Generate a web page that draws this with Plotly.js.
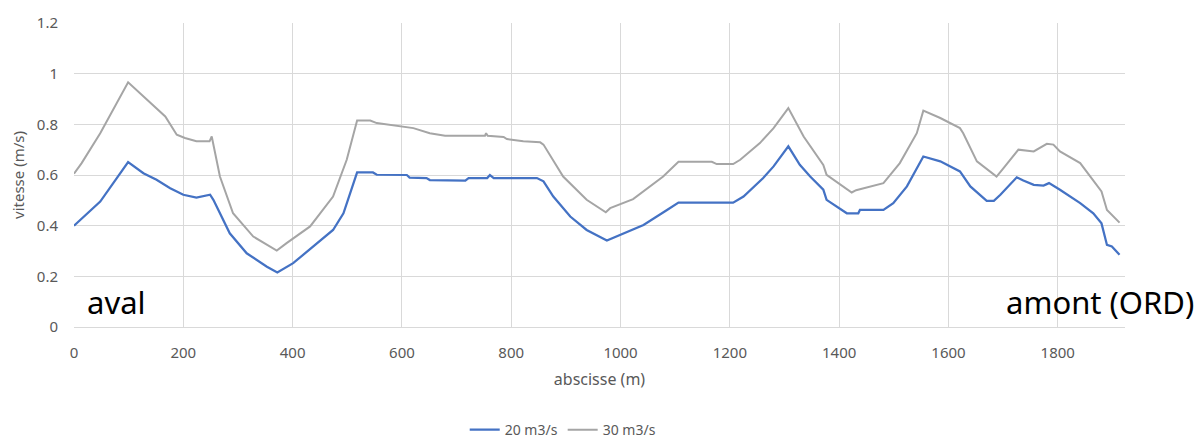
<!DOCTYPE html>
<html>
<head>
<meta charset="utf-8">
<script src="https://cdn.plot.ly/plotly-3.0.1.min.js"></script>
<style>html,body{margin:0;padding:0;background:#fff;}#chart{width:1195px;height:438px;}</style>
</head>
<body>
<div id="chart"></div>
<script>
const x30 = [0,14,48,99,167,188,203,224,248,252,267,291,328,371,389,432,474,499,518,542,554,584,621,651,679,752,754,757,786,792,822,853,859,895,938,973,981,1023,1078,1106,1167,1176,1206,1219,1255,1280,1307,1335,1371,1377,1423,1431,1481,1511,1542,1554,1585,1621,1627,1652,1688,1700,1728,1756,1780,1792,1804,1841,1865,1880,1890,1913];
const v30 = [0.605,0.647,0.765,0.966,0.831,0.759,0.746,0.733,0.733,0.752,0.594,0.449,0.357,0.302,0.331,0.397,0.515,0.66,0.815,0.815,0.805,0.795,0.785,0.765,0.755,0.755,0.765,0.755,0.75,0.742,0.733,0.729,0.72,0.594,0.502,0.453,0.469,0.505,0.594,0.652,0.652,0.643,0.643,0.66,0.726,0.785,0.864,0.752,0.64,0.601,0.531,0.54,0.568,0.647,0.765,0.854,0.825,0.785,0.765,0.654,0.594,0.625,0.7,0.693,0.723,0.72,0.693,0.647,0.581,0.535,0.462,0.412];
const x20 = [0,48,99,127,151,176,200,224,249,255,285,316,353,372,401,438,474,493,518,547,554,609,614,645,651,716,722,756,761,768,847,859,877,908,938,975,1005,1042,1085,1106,1206,1225,1261,1280,1307,1328,1347,1371,1377,1414,1435,1438,1481,1499,1524,1554,1585,1621,1640,1670,1683,1695,1725,1737,1756,1774,1784,1804,1841,1865,1880,1890,1899,1913];
const v20 = [0.40,0.495,0.651,0.607,0.581,0.548,0.522,0.511,0.522,0.502,0.370,0.291,0.238,0.215,0.252,0.317,0.383,0.449,0.61,0.61,0.601,0.6,0.59,0.588,0.58,0.578,0.588,0.588,0.6,0.588,0.588,0.575,0.515,0.436,0.383,0.341,0.37,0.403,0.462,0.491,0.491,0.515,0.588,0.634,0.713,0.64,0.594,0.542,0.502,0.449,0.449,0.462,0.462,0.489,0.555,0.673,0.654,0.614,0.555,0.498,0.498,0.522,0.591,0.578,0.561,0.558,0.568,0.542,0.489,0.449,0.409,0.324,0.318,0.285];
const seriesNames = ["20 m3/s", "30 m3/s"];
const xTitle = "abscisse (m)";
const yTitle = "vitesse (m/s)";
const labelLeft = "aval";
const labelRight = "amont (ORD)";

const font = "Noto Sans, Liberation Sans, sans-serif";
const grey = "#595959";
const traces = [
  {x: x20, y: v20, name: seriesNames[0], type: "scatter", mode: "lines", line: {color: "#4472C4", width: 2.25}},
  {x: x30, y: v30, name: seriesNames[1], type: "scatter", mode: "lines", line: {color: "#A5A5A5", width: 2}}
];
const layout = {
  width: 1195, height: 438,
  margin: {l: 74, r: 70, t: 23, b: 111},
  paper_bgcolor: "#fff", plot_bgcolor: "#fff",
  font: {family: font, size: 14, color: grey},
  showlegend: true,
  legend: {orientation: "h", x: 0.465, xanchor: "center", yref: "container", y: 0.018, yanchor: "middle", font: {size: 14, color: grey}},
  xaxis: {
    range: [0, 1923], dtick: 200, tick0: 0, showgrid: true, gridcolor: "#d9d9d9", gridwidth: 1,
    zeroline: false, showline: true, linecolor: "#d9d9d9", linewidth: 1, ticks: "",
    ticklabelstandoff: 12,
    title: {text: xTitle, font: {size: 16, color: grey}, standoff: 12},
    tickfont: {size: 15, color: grey}
  },
  yaxis: {
    range: [0, 1.2], dtick: 0.2, tick0: 0, showgrid: true, gridcolor: "#d9d9d9", gridwidth: 1,
    zeroline: false, showline: false, ticks: "",
    ticklabelstandoff: 15,
    title: {text: yTitle, font: {size: 15, color: grey}, standoff: 8},
    tickfont: {size: 15, color: grey}
  },
  annotations: [
    {text: labelLeft, xref: "paper", yref: "paper", x: 0.01, y: 0.005, xanchor: "left", yanchor: "bottom", showarrow: false, font: {size: 31, color: "#000", family: font}},
    {text: labelRight, xref: "paper", yref: "paper", x: 1.068, y: 0.005, xanchor: "right", yanchor: "bottom", showarrow: false, font: {size: 31, color: "#000", family: font}}
  ]
};
Plotly.newPlot("chart", traces, layout, {displayModeBar: false, staticPlot: true});
</script>
</body>
</html>
